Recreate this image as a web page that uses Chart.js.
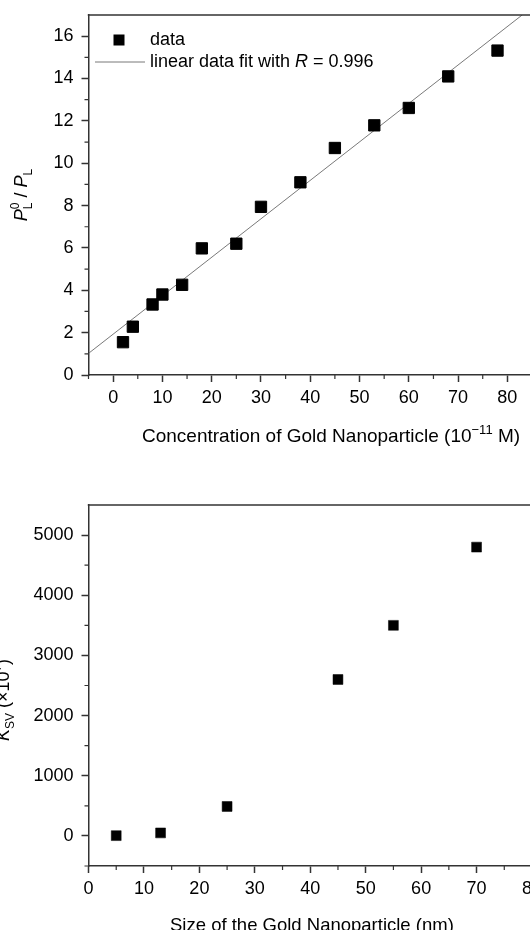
<!DOCTYPE html>
<html lang="en">
<head>
<meta charset="UTF-8">
<title>Gold Nanoparticle Quenching</title>
<script src="https://cdn.jsdelivr.net/npm/chart.js"></script>
<style>
    html, body { margin: 0; padding: 0; background: #fff; overflow: hidden; }
    body { width: 530px; height: 930px; position: relative; }
    canvas { position: absolute; left: 0; }
    #topChart { top: 0; }
    #bottomChart { top: 465px; }
</style>
</head>
<body>
<canvas id="topChart" width="560" height="465"></canvas>
<canvas id="bottomChart" width="560" height="465"></canvas>
<script>
// top panel: P_L^0 / P_L against gold concentration
const concX = [2, 4, 8, 10, 14, 18, 25, 30, 38, 45, 53, 60, 68, 78];
const ratioY = [1.55, 2.28, 3.33, 3.8, 4.26, 5.98, 6.2, 7.94, 9.1, 10.72, 11.79, 12.61, 14.1, 15.32];
const fitX = [-5, 83];
const fitY = [1.02, 17];
const topXTicks = [0, 10, 20, 30, 40, 50, 60, 70, 80];
const topYTicks = [0, 2, 4, 6, 8, 10, 12, 14, 16];
const dataLabel = 'data';
const fitLabel = ['linear data fit with ', 'R', ' = 0.996'];

// bottom panel: K_SV against particle size
const sizeX = [5, 13, 25, 45, 55, 70];
const ksvY = [5, 50, 490, 2600, 3500, 4800];
const botXTicks = [0, 10, 20, 30, 40, 50, 60, 70, 80];
const botYTicks = [0, 1000, 2000, 3000, 4000, 5000];

const AXIS = '#333';
const FONT = "'Liberation Sans', Arial, sans-serif";

// draws a string made of parts (italic / sub / sup); x is the centre, or the start if left
function drawRich(ctx, parts, cx, cy, rotate, size, left) {
    const small = Math.round(size * 0.68);
    const fontFor = p => (p.it ? 'italic ' : '') + ((p.sub || p.sup) ? small : size) + 'px ' + FONT;
    const widths = [];
    let total = 0, lastStart = 0;
    parts.forEach(p => {
        ctx.font = fontFor(p);
        const w = ctx.measureText(p.t).width;
        widths.push(w);
        if (p.stack) total = Math.max(total, lastStart + w);
        else { lastStart = total; total += w; }
    });
    ctx.save();
    ctx.translate(cx, cy);
    if (rotate) ctx.rotate(-Math.PI / 2);
    ctx.fillStyle = '#000';
    ctx.textAlign = 'left';
    ctx.textBaseline = 'alphabetic';
    let x = left ? 0 : -total / 2, start = x;
    parts.forEach((p, i) => {
        ctx.font = fontFor(p);
        const dy = p.sub ? size * 0.3 : p.sup ? -size * 0.42 : 0;
        if (p.stack) {
            ctx.fillText(p.t, start, dy);
            x = Math.max(x, start + widths[i]);
        } else {
            ctx.fillText(p.t, x, dy);
            start = x;
            x += widths[i];
        }
    });
    ctx.restore();
}

const framePlugin = {
    id: 'frame',
    afterDraw(chart, args, opts) {
        const { ctx, chartArea: a, scales } = chart;
        ctx.save();
        ctx.strokeStyle = AXIS;
        ctx.lineWidth = 1.5;
        ctx.beginPath();
        ctx.moveTo(a.left - 0.75, a.top);
        ctx.lineTo(a.right + 5, a.top);
        ctx.stroke();
        ctx.lineWidth = 1.2;
        ctx.beginPath();
        for (let v = opts.xMinor[0]; v <= opts.xMinor[1]; v += opts.xMinor[2]) {
            const px = scales.x.getPixelForValue(v);
            ctx.moveTo(px, a.bottom);
            ctx.lineTo(px, a.bottom + 4);
        }
        for (let v = opts.yMinor[0]; v <= opts.yMinor[1]; v += opts.yMinor[2]) {
            const py = scales.y.getPixelForValue(v);
            ctx.moveTo(a.left, py);
            ctx.lineTo(a.left - 4, py);
        }
        ctx.stroke();
        ctx.restore();

        opts.titles.forEach(t => drawRich(ctx, t.parts, t.x, t.y, t.rotate, t.size, t.left));

        if (opts.legend) {
            ctx.save();
            ctx.fillStyle = '#000';
            ctx.fillRect(113.5, 34.5, 11, 11);
            ctx.strokeStyle = '#6a6a6a';
            ctx.lineWidth = 0.9;
            ctx.beginPath();
            ctx.moveTo(95, 62);
            ctx.lineTo(145, 62);
            ctx.stroke();
            ctx.font = '18px ' + FONT;
            ctx.textBaseline = 'middle';
            ctx.fillText(dataLabel, 150, 40);
            let x = 150;
            fitLabel.forEach((s, i) => {
                ctx.font = (i === 1 ? 'italic ' : '') + '18px ' + FONT;
                ctx.fillText(s, x, 62);
                x += ctx.measureText(s).width;
            });
            ctx.restore();
        }
    }
};

function axis(tickValues, min, max, fitFn, pad) {
    return {
        type: 'linear',
        min: min,
        max: max,
        afterBuildTicks: s => { s.ticks = tickValues.map(v => ({ value: v })); },
        afterFit: s => {
            fitFn(s);
            s.paddingTop = 0; s.paddingBottom = 0;
            s.paddingLeft = 0; s.paddingRight = 0;
        },
        border: { display: true, color: AXIS, width: 1.5 },
        grid: { drawOnChartArea: false, drawTicks: true, tickLength: 7, tickColor: AXIS, tickWidth: 1.5 },
        ticks: { color: '#000', font: { family: FONT, size: 18 }, padding: pad, callback: v => String(v) }
    };
}

new Chart(document.getElementById('topChart'), {
    type: 'scatter',
    data: {
        datasets: [{
            label: dataLabel,
            data: concX.map((x, i) => ({ x: x, y: ratioY[i] })),
            pointStyle: 'rect',
            pointRadius: 8,
            backgroundColor: '#000',
            borderColor: '#000',
            borderWidth: 1,
            order: 1
        }, {
            type: 'line',
            label: fitLabel.join(''),
            data: fitX.map((x, i) => ({ x: x, y: fitY[i] })),
            showLine: true,
            borderColor: '#6a6a6a',
            borderWidth: 0.9,
            pointRadius: 0,
            order: 2
        }]
    },
    options: {
        responsive: false,
        animation: false,
        layout: { padding: { top: 15, right: 28, left: 0, bottom: 0 } },
        scales: {
            x: axis(topXTicks, -5, 85, s => { s.height = 90; }, 5),
            y: axis(topYTicks, 0, 17, s => { s.width = 88.5; }, 8)
        },
        plugins: {
            legend: { display: false },
            tooltip: { enabled: false },
            frame: {
                xMinor: [-5, 75, 10],
                yMinor: [1, 15, 2],
                legend: true,
                titles: [
                    { parts: [{ t: 'Concentration of Gold Nanoparticle (10' }, { t: '\u221211', sup: true }, { t: ' M)' }], x: 142, y: 442, size: 19, left: true },
                    { parts: [{ t: 'P', it: true }, { t: 'L', sub: true }, { t: '0', sup: true, stack: true }, { t: ' / ' }, { t: 'P', it: true }, { t: 'L', sub: true }], x: 27, y: 195, rotate: true, size: 18 }
                ]
            }
        }
    },
    plugins: [framePlugin]
});

new Chart(document.getElementById('bottomChart'), {
    type: 'scatter',
    data: {
        datasets: [{
            label: 'K_SV',
            data: sizeX.map((x, i) => ({ x: x, y: ksvY[i] })),
            pointStyle: 'rect',
            pointRadius: 7,
            backgroundColor: '#000',
            borderColor: '#000',
            borderWidth: 0.5
        }]
    },
    options: {
        responsive: false,
        animation: false,
        layout: { padding: { top: 40, right: 28, left: 0, bottom: 0 } },
        scales: {
            x: axis(botXTicks, 0, 80, s => { s.height = 64; }, 5),
            y: axis(botYTicks, -500, 5500, s => { s.width = 88.5; }, 8)
        },
        plugins: {
            legend: { display: false },
            tooltip: { enabled: false },
            frame: {
                xMinor: [5, 75, 10],
                yMinor: [-500, 4500, 1000],
                legend: false,
                titles: [
                    { parts: [{ t: 'Size of the Gold Nanoparticle (nm)' }], x: 170, y: 466, size: 18.5, left: true },
                    { parts: [{ t: 'K', it: true }, { t: 'SV', sub: true }, { t: ' (\u00d710' }, { t: '7', sup: true }, { t: ')' }], x: 9, y: 235, rotate: true, size: 18 }
                ]
            }
        }
    },
    plugins: [framePlugin]
});
</script>
</body>
</html>
